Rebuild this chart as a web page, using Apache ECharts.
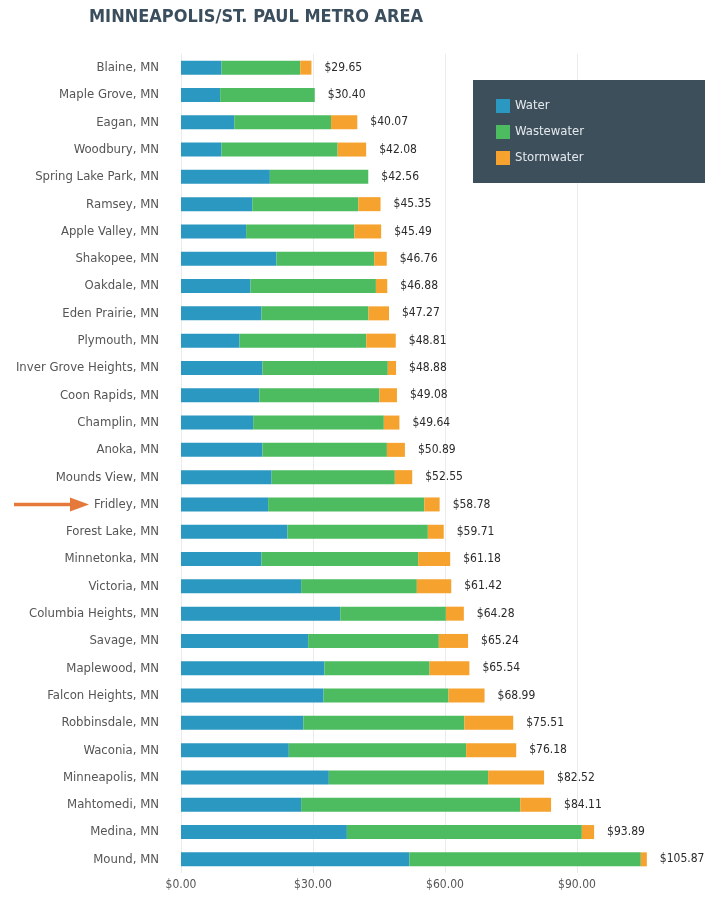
<!DOCTYPE html>
<html>
<head>
<meta charset="utf-8">
<script src="https://cdn.jsdelivr.net/npm/echarts@6/dist/echarts.min.js"></script>
<style>
html,body{margin:0;padding:0;background:#fff;}
#chart{width:724px;height:907px;}
</style>
</head>
<body>
<div id="chart"></div>
<script>
const cities = ["Blaine, MN","Maple Grove, MN","Eagan, MN","Woodbury, MN","Spring Lake Park, MN","Ramsey, MN","Apple Valley, MN","Shakopee, MN","Oakdale, MN","Eden Prairie, MN","Plymouth, MN","Inver Grove Heights, MN","Coon Rapids, MN","Champlin, MN","Anoka, MN","Mounds View, MN","Fridley, MN","Forest Lake, MN","Minnetonka, MN","Victoria, MN","Columbia Heights, MN","Savage, MN","Maplewood, MN","Falcon Heights, MN","Robbinsdale, MN","Waconia, MN","Minneapolis, MN","Mahtomedi, MN","Medina, MN","Mound, MN"];
const totals = [29.65,30.40,40.07,42.08,42.56,45.35,45.49,46.76,46.88,47.27,48.81,48.88,49.08,49.64,50.89,52.55,58.78,59.71,61.18,61.42,64.28,65.24,65.54,68.99,75.51,76.18,82.52,84.11,93.89,105.87];
const water = [9.2,8.9,12.1,9.2,20.2,16.2,14.8,21.7,15.8,18.3,13.3,18.5,17.8,16.4,18.5,20.6,19.8,24.2,18.3,27.3,36.2,28.9,32.6,32.4,27.8,24.5,33.6,27.3,37.7,51.9];
const wastewater = [17.9,21.5,22.0,26.4,22.36,24.1,24.6,22.2,28.5,24.3,28.8,28.5,27.3,29.7,28.3,28.0,35.5,31.9,35.6,26.3,24.0,29.7,23.9,28.4,36.6,40.3,36.2,49.8,53.4,52.6];
const stormwater = [2.55,0,5.97,6.48,0,5.05,6.09,2.86,2.58,4.67,6.71,1.88,3.98,3.54,4.09,3.95,3.48,3.61,7.28,7.82,4.08,6.64,9.04,8.19,11.11,11.38,12.72,7.01,2.79,1.37];
const tickValues = [0,30,60,90];
const highlighted = "Fridley, MN";

const FONT = '"Liberation Sans Narrow","DejaVu Sans Condensed","Roboto",sans-serif';
const chart = echarts.init(document.getElementById('chart'));
const option = {
  animation: false,
  backgroundColor: '#ffffff',
  title: {
    text: 'MINNEAPOLIS/ST. PAUL METRO AREA',
    left: 89, top: 8, padding: 0,
    textStyle: {fontFamily: FONT, fontWeight: 'bold', fontSize: 18, color: '#3b4e5d'}
  },
  legend: {
    orient: 'vertical', left: 496, top: 99, padding: 0, z: 10,
    itemWidth: 14, itemHeight: 14, itemGap: 12,
    icon: 'rect',
    data: ['Water','Wastewater','Stormwater'],
    textStyle: {fontFamily: FONT, fontSize: 13, color: '#e4e9ee'}
  },
  grid: {left: 181, right: 59, top: 54, bottom: 34, containLabel: false, outerBoundsMode: 'none'},
  xAxis: {
    type: 'value', min: 0, max: 110, interval: 30,
    axisLine: {show: false}, axisTick: {show: false},
    splitLine: {show: true, showMaxLine: false, lineStyle: {color: '#ebebeb', width: 1}},
    axisLabel: {
      showMaxLabel: false, margin: 6,
      fontFamily: FONT, fontSize: 12, color: '#555',
      formatter: v => tickValues.indexOf(v) >= 0 ? '$' + v.toFixed(2) : ''
    }
  },
  yAxis: {
    type: 'category', data: cities, inverse: true,
    axisLine: {show: false}, axisTick: {show: false},
    axisLabel: {margin: 22, fontFamily: FONT, fontSize: 13, color: '#555'}
  },
  series: [
    {name: 'Water', type: 'bar', stack: 'a', data: water, barWidth: 14, itemStyle: {color: '#2b98c1'}},
    {name: 'Wastewater', type: 'bar', stack: 'a', data: wastewater, barWidth: 14, itemStyle: {color: '#4dbb5f'}},
    {name: 'Stormwater', type: 'bar', stack: 'a', data: stormwater, barWidth: 14, itemStyle: {color: '#f5a32e'},
      label: {show: true, position: 'right', distance: 13, fontFamily: FONT, fontSize: 12, color: '#2a2a2a',
        formatter: p => '$' + totals[p.dataIndex].toFixed(2)}}
  ]
};
chart.setOption(option);
const fy = chart.convertToPixel({yAxisIndex: 0}, highlighted);
chart.setOption({
  graphic: [
    {type: 'rect', z: 8, shape: {x: 473, y: 80, width: 232, height: 103}, style: {fill: '#3e4f5c'}},
    {type: 'line', shape: {x1: 14, y1: fy, x2: 74, y2: fy}, style: {stroke: '#e5793b', lineWidth: 3.5}},
    {type: 'polygon', shape: {points: [[70, fy - 7], [89, fy], [70, fy + 7]]}, style: {fill: '#e5793b'}}
  ]
});
</script>
</body>
</html>
